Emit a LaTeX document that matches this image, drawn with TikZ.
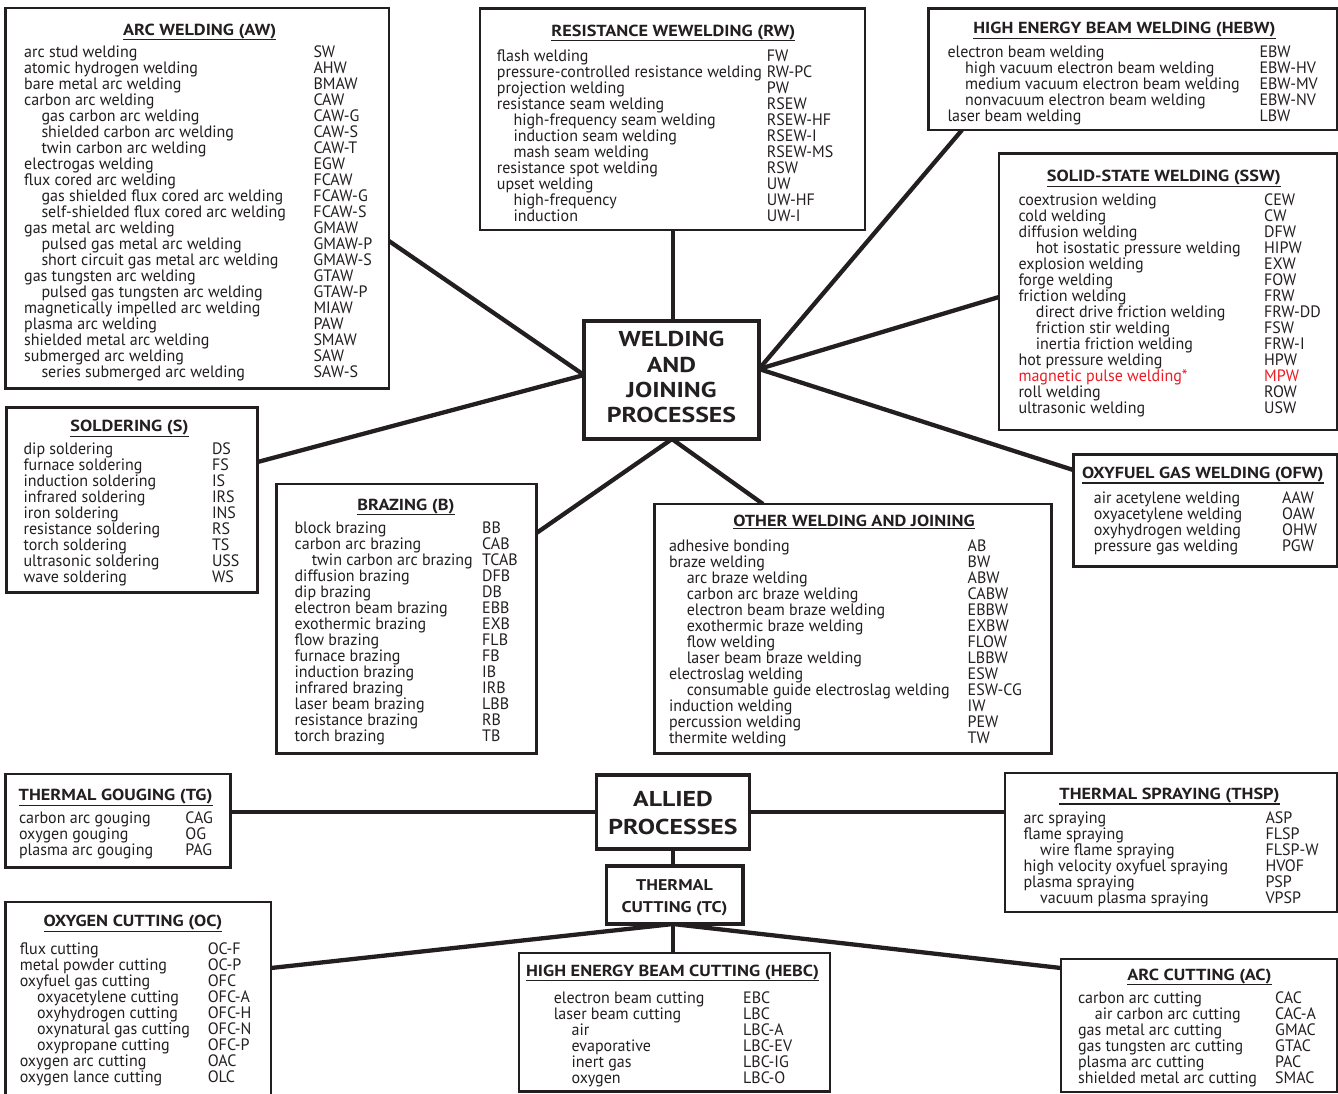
\documentclass[tikz,border=0pt]{standalone}
\usepackage{fontspec}
\setmainfont{PT Sans}
\newfontfamily\listfam[FakeStretch=0.97]{PT Sans}
\newfontfamily\ttlfam[FakeStretch=1.14]{PT Sans}
\newfontfamily\bigfam[FakeStretch=1.2]{PT Sans}
\newfontfamily\tcfam[FakeStretch=1.16]{PT Sans}
\definecolor{ink}{HTML}{231F20}
\definecolor{wred}{HTML}{ED1C24}
\newlength\cw
\newlength\ind
\newcommand\La[2]{\rule[-3pt]{0pt}{13pt}\makebox[\cw][l]{#1}#2}
\newcommand\Lb[2]{\rule[-3pt]{0pt}{13pt}\makebox[\cw][l]{\hspace*{\ind}#1}#2}
\newcommand\ttlu[1]{\vtop{\hbox{#1}\kern0.6pt\hrule height 1.2pt}}
\newcommand\listfont{\listfam\fontsize{16.5}{16}\selectfont\lineskiplimit=-100pt\relax}
\newcommand\ttlfont{\ttlfam\bfseries\fontsize{16}{16}\selectfont}
\newcommand\bigfont{\bigfam\bfseries\fontsize{21.5}{25.3}\selectfont\lineskiplimit=-100pt\relax}
\newcommand\alfont{\bigfam\bfseries\fontsize{21.5}{27.3}\selectfont\lineskiplimit=-100pt\relax}
\newcommand\tcfont{\tcfam\bfseries\fontsize{15.5}{22}\selectfont\lineskiplimit=-100pt\relax}
\newcommand\bx[5]{\node[box,minimum width={(#4-#2)*1pt},minimum height={(#5-#3)*1pt}] (#1) at (#2,#3) {};}
\tikzset{
  box/.style={draw=ink, fill=white, line width=2.6pt, inner sep=0pt, outer sep=0pt, anchor=north west},
  ttl/.style={font=\ttlfont, text=ink, inner sep=0pt, anchor=base},
  lst/.style={font=\listfont, text=ink, inner sep=0pt, anchor=north west, align=left, yshift=-1.5pt},
  big/.style={font=\bigfont, text=ink, inner sep=0pt, anchor=north, align=center},
  conn/.style={draw=ink, line width=4.3pt},
}
\begin{document}
\begin{tikzpicture}[x=1pt,y=-1pt]
\fill[white] (0,0) rectangle (1338,1093);
\useasboundingbox (0,0) rectangle (1338,1093);
% junction coordinates
\coordinate (jL) at (584,375);
\coordinate (jR) at (759,369);
\coordinate (jT) at (673,321);
\coordinate (jB) at (672,439);
\coordinate (awC) at (389,241);
\coordinate (soC) at (257.6,462);
\coordinate (brC) at (536.5,533);
\coordinate (otC) at (763,504);
\coordinate (ofC) at (1073.3,470);
\coordinate (ssC) at (999,297);
\coordinate (heC) at (962,130);
\coordinate (rwC) at (673,230);
\coordinate (alL) at (596.5,812);
\coordinate (alR) at (749.5,812);
\coordinate (tgC) at (230.5,812);
\coordinate (tsC) at (1005,812);
\coordinate (alB) at (673,849);
\coordinate (tcTop) at (673,866);
\coordinate (tcB) at (673,924);
\coordinate (hcC) at (673,953);
\coordinate (ocC) at (271,968);
\coordinate (acC) at (1061,968);
% connectors
\draw[conn] (awC) -- (jL);
\draw[conn] (soC) -- (jL);
\draw[conn] (brC) -- (jB);
\draw[conn] (otC) -- (jB);
\draw[conn] (ofC) -- (jR);
\draw[conn] (ssC) -- (jR);
\draw[conn] (heC) -- (jR);
\draw[conn] (rwC) -- (jT);
\draw[conn] (tgC) -- (alL);
\draw[conn] (alR) -- (tsC);
\draw[conn] (alB) -- (tcTop);
\draw[conn] (tcB) -- (hcC);
\draw[conn] (tcB) -- (ocC);
\draw[conn] (tcB) -- (acC);
% boxes
\bx{aw}{5.7}{8}{389}{388.3}
\bx{rw}{480}{8.3}{865}{230}
\bx{hebw}{928.3}{8.3}{1337}{130}
\bx{ssw}{999}{153.3}{1337}{430}
\bx{so}{6.2}{407.3}{257.6}{592.7}
\bx{br}{276.5}{484}{536.5}{753.3}
\bx{ot}{654.5}{504}{1051.5}{753.3}
\bx{of}{1073.3}{454.3}{1337}{566.7}
\bx{tg}{5.5}{774}{230.5}{867.5}
\bx{ts}{1005}{773}{1337}{912}
\bx{oc}{5.5}{902}{271}{1096}
\bx{hc}{519}{953}{829.8}{1091.5}
\bx{ac}{1061}{959}{1337}{1092}
\node[box, line width=3.2pt, minimum width=175pt, minimum height=118pt] (main) at (584,321) {};
\node[box, line width=3.2pt, minimum width=153pt, minimum height=74pt] (allied) at (596.5,775) {};
\node[box, line width=3.2pt, minimum width=136.5pt, minimum height=58pt] (tc) at (606.5,866) {};
% main texts
\node[big] (mainT) at (671.5,330.7) {\rule{0pt}{16pt}WELDING\\AND\\JOINING\\PROCESSES};
\node[big, font=\alfont] (alliedT) at (673,790.7) {\rule{0pt}{16pt}ALLIED\\PROCESSES};
\node[big, font=\tcfont] (tcT) at (674.5,878.7) {\rule{0pt}{12pt}THERMAL\\CUTTING (TC)};
% ARC WELDING
\node[ttl] (awT) at (199.7,35) {\ttlu{ARC WELDING (AW)}};
\setlength\cw{289.3pt}\setlength\ind{17.3pt}
\node[lst] (awL) at (24,43.7) {%
\La{arc stud welding}{SW}\\
\La{atomic hydrogen welding}{AHW}\\
\La{bare metal arc welding}{BMAW}\\
\La{carbon arc welding}{CAW}\\
\Lb{gas carbon arc welding}{CAW-G}\\
\Lb{shielded carbon arc welding}{CAW-S}\\
\Lb{twin carbon arc welding}{CAW-T}\\
\La{electrogas welding}{EGW}\\
\La{flux cored arc welding}{FCAW}\\
\Lb{gas shielded flux cored arc welding}{FCAW-G}\\
\Lb{self-shielded flux cored arc welding}{FCAW-S}\\
\La{gas metal arc welding}{GMAW}\\
\Lb{pulsed gas metal arc welding}{GMAW-P}\\
\Lb{short circuit gas metal arc welding}{GMAW-S}\\
\La{gas tungsten arc welding}{GTAW}\\
\Lb{pulsed gas tungsten arc welding}{GTAW-P}\\
\La{magnetically impelled arc welding}{MIAW}\\
\La{plasma arc welding}{PAW}\\
\La{shielded metal arc welding}{SMAW}\\
\La{submerged arc welding}{SAW}\\
\Lb{series submerged arc welding}{SAW-S}};
% RESISTANCE
\node[ttl] (rwT) at (673.3,36) {\ttlu{RESISTANCE WEWELDING (RW)}};
\setlength\cw{270pt}\setlength\ind{16.6pt}
\node[lst] (rwL) at (496.7,48) {%
\La{flash welding}{FW}\\
\La{pressure-controlled resistance welding}{RW-PC}\\
\La{projection welding}{PW}\\
\La{resistance seam welding}{RSEW}\\
\Lb{high-frequency seam welding}{RSEW-HF}\\
\Lb{induction seam welding}{RSEW-I}\\
\Lb{mash seam welding}{RSEW-MS}\\
\La{resistance spot welding}{RSW}\\
\La{upset welding}{UW}\\
\Lb{high-frequency}{UW-HF}\\
\Lb{induction}{UW-I}};
% HEBW
\node[ttl] (hebwT) at (1124.5,33.5) {\ttlu{HIGH ENERGY BEAM WELDING (HEBW)}};
\setlength\cw{312pt}\setlength\ind{17.7pt}
\node[lst] (hebwL) at (947.3,44.3) {%
\La{electron beam welding}{EBW}\\
\Lb{high vacuum electron beam welding}{EBW-HV}\\
\Lb{medium vacuum electron beam welding}{EBW-MV}\\
\Lb{nonvacuum electron beam welding}{EBW-NV}\\
\La{laser beam welding}{LBW}};
% SSW
\node[ttl] (sswT) at (1163.8,181.5) {\ttlu{SOLID-STATE WELDING (SSW)}};
\setlength\cw{245.7pt}\setlength\ind{17.4pt}
\node[lst] (sswL) at (1018.3,192) {%
\La{coextrusion welding}{CEW}\\
\La{cold welding}{CW}\\
\La{diffusion welding}{DFW}\\
\Lb{hot isostatic pressure welding}{HIPW}\\
\La{explosion welding}{EXW}\\
\La{forge welding}{FOW}\\
\La{friction welding}{FRW}\\
\Lb{direct drive friction welding}{FRW-DD}\\
\Lb{friction stir welding}{FSW}\\
\Lb{inertia friction welding}{FRW-I}\\
\La{hot pressure welding}{HPW}\\
\La{\color{wred}magnetic pulse welding*}{\color{wred}MPW}\\
\La{roll welding}{ROW}\\
\La{ultrasonic welding}{USW}};
% SOLDERING
\node[ttl] (soT) at (129.5,431.7) {\ttlu{SOLDERING (S)}};
\setlength\cw{188.4pt}
\node[lst] (soL) at (23.4,441.3) {%
\La{dip soldering}{DS}\\
\La{furnace soldering}{FS}\\
\La{induction soldering}{IS}\\
\La{infrared soldering}{IRS}\\
\La{iron soldering}{INS}\\
\La{resistance soldering}{RS}\\
\La{torch soldering}{TS}\\
\La{ultrasonic soldering}{USS}\\
\La{wave soldering}{WS}};
% BRAZING
\node[ttl] (brT) at (406,510) {\ttlu{BRAZING (B)}};
\setlength\cw{187.6pt}\setlength\ind{17.2pt}
\node[lst] (brL) at (294.4,520.3) {%
\La{block brazing}{BB}\\
\La{carbon arc brazing}{CAB}\\
\Lb{twin carbon arc brazing}{TCAB}\\
\La{diffusion brazing}{DFB}\\
\La{dip brazing}{DB}\\
\La{electron beam brazing}{EBB}\\
\La{exothermic brazing}{EXB}\\
\La{flow brazing}{FLB}\\
\La{furnace brazing}{FB}\\
\La{induction brazing}{IB}\\
\La{infrared brazing}{IRB}\\
\La{laser beam brazing}{LBB}\\
\La{resistance brazing}{RB}\\
\La{torch brazing}{TB}};
% OTHER
\node[ttl] (otT) at (854,526.7) {\ttlu{OTHER WELDING AND JOINING}};
\setlength\cw{298.7pt}\setlength\ind{17.8pt}
\node[lst] (otL) at (668.8,537.7) {%
\La{adhesive bonding}{AB}\\
\La{braze welding}{BW}\\
\Lb{arc braze welding}{ABW}\\
\Lb{carbon arc braze welding}{CABW}\\
\Lb{electron beam braze welding}{EBBW}\\
\Lb{exothermic braze welding}{EXBW}\\
\Lb{flow welding}{FLOW}\\
\Lb{laser beam braze welding}{LBBW}\\
\La{electroslag welding}{ESW}\\
\Lb{consumable guide electroslag welding}{ESW-CG}\\
\La{induction welding}{IW}\\
\La{percussion welding}{PEW}\\
\La{thermite welding}{TW}};
% OFW
\node[ttl] (ofT) at (1202.8,478.3) {\ttlu{OXYFUEL GAS WELDING (OFW)}};
\setlength\cw{188.3pt}
\node[lst] (ofL) at (1093.7,489.7) {%
\La{air acetylene welding}{AAW}\\
\La{oxyacetylene welding}{OAW}\\
\La{oxyhydrogen welding}{OHW}\\
\La{pressure gas welding}{PGW}};
% THERMAL GOUGING
\node[ttl] (tgT) at (115.6,800.7) {\ttlu{THERMAL GOUGING (TG)}};
\setlength\cw{166.5pt}
\node[lst] (tgL) at (18.8,810.3) {%
\La{carbon arc gouging}{CAG}\\
\La{oxygen gouging}{OG}\\
\La{plasma arc gouging}{PAG}};
% THERMAL SPRAYING
\node[ttl] (tsT) at (1169.5,799.3) {\ttlu{THERMAL SPRAYING (THSP)}};
\setlength\cw{242pt}\setlength\ind{16.7pt}
\node[lst] (tsL) at (1023.3,810.5) {%
\La{arc spraying}{ASP}\\
\La{flame spraying}{FLSP}\\
\Lb{wire flame spraying}{FLSP-W}\\
\La{high velocity oxyfuel spraying}{HVOF}\\
\La{plasma spraying}{PSP}\\
\Lb{vacuum plasma spraying}{VPSP}};
% OXYGEN CUTTING
\node[ttl] (ocT) at (133,926.7) {\ttlu{OXYGEN CUTTING (OC)}};
\setlength\cw{188pt}\setlength\ind{17.4pt}
\node[lst] (ocL) at (19.6,941) {%
\La{flux cutting}{OC-F}\\
\La{metal powder cutting}{OC-P}\\
\La{oxyfuel gas cutting}{OFC}\\
\Lb{oxyacetylene cutting}{OFC-A}\\
\Lb{oxyhydrogen cutting}{OFC-H}\\
\Lb{oxynatural gas cutting}{OFC-N}\\
\Lb{oxypropane cutting}{OFC-P}\\
\La{oxygen arc cutting}{OAC}\\
\La{oxygen lance cutting}{OLC}};
% HEBC
\node[ttl] (hcT) at (672.6,976) {\ttlu{HIGH ENERGY BEAM CUTTING (HEBC)}};
\setlength\cw{189.4pt}\setlength\ind{17.8pt}
\node[lst] (hcL) at (553.6,989.7) {%
\La{electron beam cutting}{EBC}\\
\La{laser beam cutting}{LBC}\\
\Lb{air}{LBC-A}\\
\Lb{evaporative}{LBC-EV}\\
\Lb{inert gas}{LBC-IG}\\
\Lb{oxygen}{LBC-O}};
% ARC CUTTING
\node[ttl] (acT) at (1199.5,980) {\ttlu{ARC CUTTING (AC)}};
\setlength\cw{197.2pt}\setlength\ind{16.8pt}
\node[lst] (acL) at (1077.8,990.3) {%
\La{carbon arc cutting}{CAC}\\
\Lb{air carbon arc cutting}{CAC-A}\\
\La{gas metal arc cutting}{GMAC}\\
\La{gas tungsten arc cutting}{GTAC}\\
\La{plasma arc cutting}{PAC}\\
\La{shielded metal arc cutting}{SMAC}};
\end{tikzpicture}
\end{document}
